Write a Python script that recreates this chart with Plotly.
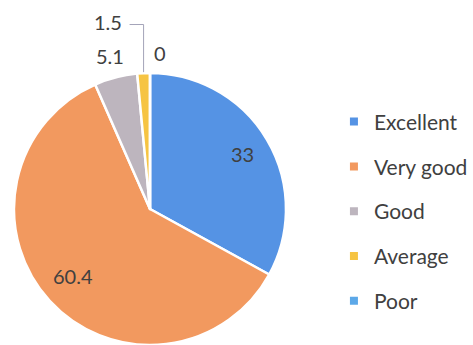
import math
import plotly.graph_objects as go

# Survey ratings (percent of respondents)
categories = ["Excellent", "Very good", "Good", "Average", "Poor"]
values = [33, 60.4, 5.1, 1.5, 0]
colors = ["#5593E4", "#F2995F", "#BDB5BE", "#F6C443", "#5CA8E8"]

W, H = 473, 345
cx, cy, R = 150, 209, 136  # pie centre / radius in pixels

fig = go.Figure()

fig.add_trace(go.Pie(
    labels=categories,
    values=values,
    sort=False,
    direction="clockwise",
    rotation=0,
    marker=dict(colors=colors, line=dict(color="white", width=2.5)),
    textinfo="none",
    hoverinfo="label+value",
    showlegend=False,
    domain=dict(x=[(cx - R) / W, (cx + R) / W],
                y=[(H - cy - R) / H, (H - cy + R) / H]),
))

# legend entries (one group each so the items get spaced out)
for cat, col in zip(categories, colors):
    fig.add_trace(go.Scatter(
        x=[None], y=[None], mode="markers", name=cat,
        legendgroup=cat,
        marker=dict(symbol="square", size=8, color=col),
    ))


def to_paper(px, py):
    return px / W, 1 - py / H


# value labels positioned from each slice's mid-angle
total = sum(values)
cum = 0
label_fmt = {0: (0.79, 0, 0), 1: (0.75, -2, -2), 2: (1.16, 0, 0),
             3: (1.38, -33, 0), 4: (1.15, 10, 0)}
mids = []
for i, v in enumerate(values):
    mid = (cum + v / 2) / total * 2 * math.pi
    cum += v
    mids.append(mid)
    rf, dx, dy = label_fmt[i]
    px = cx + rf * R * math.sin(mid) + dx
    py = cy - rf * R * math.cos(mid) + dy
    xp, yp = to_paper(px, py)
    fig.add_annotation(x=xp, y=yp, xref="paper", yref="paper",
                       xanchor="center", yanchor="middle",
                       text=f"{v:g}", showarrow=False,
                       font=dict(size=20, color="#404040"))

# leader line for the thin "Average" slice
m = mids[3]
ex = cx + R * math.sin(m)
ey = cy - R * math.cos(m)
lx0, ly0 = ex - 14, cy - 1.38 * R * math.cos(m) + 3
for (ax0, ay0, ax1, ay1) in [(lx0, ly0, ex, ly0), (ex, ly0, ex, ey - 1)]:
    x0p, y0p = to_paper(ax0, ay0)
    x1p, y1p = to_paper(ax1, ay1)
    fig.add_shape(type="line", xref="paper", yref="paper",
                  x0=x0p, y0=y0p, x1=x1p, y1=y1p,
                  line=dict(color="#A3A3B8", width=1))

fig.update_layout(
    width=W, height=H,
    margin=dict(l=0, r=0, t=0, b=0),
    paper_bgcolor="white", plot_bgcolor="white",
    font=dict(family="Lato, Carlito, sans-serif", color="#404040"),
    xaxis=dict(visible=False), yaxis=dict(visible=False),
    legend=dict(x=0.706, y=0.706, xanchor="left", yanchor="top",
                traceorder="grouped", tracegroupgap=14.5,
                font=dict(size=21, color="#404040"),
                itemwidth=30),
)

fig.write_html("out.html")
